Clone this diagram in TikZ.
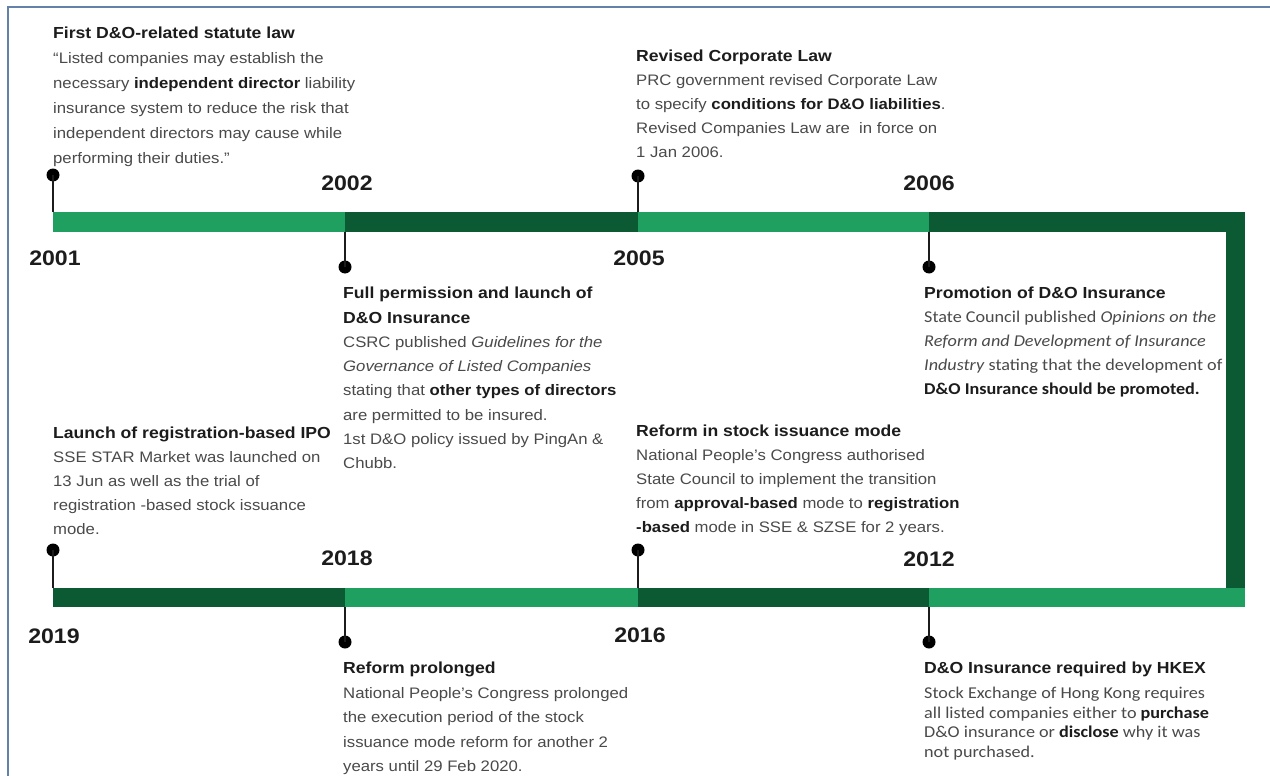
\documentclass[tikz,border=0pt]{standalone}
\usepackage{fontspec}
\setmainfont{Liberation Sans}[FakeStretch=1.1]
\newfontfamily\calfont{Carlito}[FakeStretch=1.1]
\definecolor{lgreen}{HTML}{1FA060}
\definecolor{dgreen}{HTML}{0B5A34}
\definecolor{framec}{HTML}{6382A8}
\definecolor{bodygray}{HTML}{4A4A4A}
\definecolor{ink}{HTML}{1C1C1C}
\newcommand{\ttl}[1]{{\rmfamily\fontsize{16}{24}\selectfont\bfseries\color{ink}#1}}
\newcommand{\bb}[1]{{\bfseries\color{ink}#1}}
\tikzset{
  pindot/.style={circle, fill=black, inner sep=0pt, minimum size=13pt},
  stem/.style={line width=1.8pt, draw=ink},
  year/.style={font=\fontsize{21}{24}\selectfont\bfseries, text=ink, inner sep=0pt, anchor=center},
  block/.style={anchor=north west, inner sep=0pt, align=left, text=bodygray, font=\fontsize{15.2}{24}\selectfont},
  calblock/.style={block, font=\calfont\fontsize{16.5}{24}\selectfont},
}
\begin{document}
\begin{tikzpicture}[x=1pt,y=-1pt]
\useasboundingbox (0,0) rectangle (1270,776);
\fill[white] (0,0) rectangle (1270,776);
% frame
\draw[framec, line width=2pt] (8,776) -- (8,7) -- (1270,7);
% top bar
\fill[lgreen] (53,212) rectangle (345,232);
\fill[dgreen] (345,212) rectangle (638,232);
\fill[lgreen] (638,212) rectangle (929,232);
\fill[dgreen] (929,212) rectangle (1245,232);
% right vertical bar
\fill[dgreen] (1226,212) rectangle (1245,588);
% bottom bar
\fill[dgreen] (53,588) rectangle (345,607);
\fill[lgreen] (345,588) rectangle (638,607);
\fill[dgreen] (638,588) rectangle (929,607);
\fill[lgreen] (929,588) rectangle (1245,607);

% bar anchor coordinates
\coordinate (b2001) at (53,212);
\coordinate (b2002) at (345,232);
\coordinate (b2005) at (638,212);
\coordinate (b2006) at (929,232);
\coordinate (b2019) at (53,588);
\coordinate (b2018) at (345,607);
\coordinate (b2016) at (638,588);
\coordinate (b2012) at (929,607);

% pins
\node[pindot] (p2001) at (53,175) {};
\node[pindot] (p2002) at (345,267) {};
\node[pindot] (p2005) at (638,176) {};
\node[pindot] (p2006) at (929,267) {};
\node[pindot] (p2019) at (53,550) {};
\node[pindot] (p2018) at (345,642) {};
\node[pindot] (p2016) at (638,550) {};
\node[pindot] (p2012) at (929,642) {};
\foreach \y in {2001,2002,2005,2006,2019,2018,2016,2012}
  \draw[stem] (p\y.center) -- (b\y);

% years
\node[year] (y2001) at (55,258) {2001};
\node[year] (y2002) at (347,183) {2002};
\node[year] (y2005) at (639,258) {2005};
\node[year] (y2006) at (929,183) {2006};
\node[year] (y2019) at (54,636) {2019};
\node[year] (y2018) at (347,558) {2018};
\node[year] (y2016) at (640,635) {2016};
\node[year] (y2012) at (929,559) {2012};

% text blocks
\node[block, font=\fontsize{15.2}{25}\selectfont] (t2001) at (53,27) {\ttl{First D\&O-related statute law}\\
“Listed companies may establish the\\
necessary \bb{independent director} liability\\
insurance system to reduce the risk that\\
independent directors may cause while\\
performing their duties.”};

\node[block] (t2005) at (636,50) {\ttl{Revised Corporate Law}\\
PRC government revised Corporate Law\\
to specify \bb{conditions for D\&O liabilities}.\\
Revised Companies Law are\ \ in force on\\
1 Jan 2006.};

\node[block, font=\fontsize{15.2}{24.3}\selectfont] (t2002) at (343,287) {\ttl{Full permission and launch of}\\
\ttl{D\&O Insurance}\\
CSRC published \textit{Guidelines for the}\\
\textit{Governance of Listed Companies}\\
stating that \bb{other types of directors}\\
are permitted to be insured.\\
1st D\&O policy issued by PingAn \&\\
Chubb.};

\node[calblock] (t2006) at (924,287) {\ttl{Promotion of D\&O Insurance}\\
State Council published \textit{Opinions on the}\\
\textit{Reform and Development of Insurance}\\
\textit{Industry} stating that the development of\\
\bb{D\&O Insurance should be promoted.}};

\node[block] (t2019) at (53,427) {\ttl{Launch of registration-based IPO}\\
SSE STAR Market was launched on\\
13 Jun as well as the trial of\\
registration -based stock issuance\\
mode.};

\node[block] (t2016) at (636,425) {\ttl{Reform in stock issuance mode}\\
National People’s Congress authorised\\
State Council to implement the transition\\
from \bb{approval-based} mode to \bb{registration}\\
\bb{-based} mode in SSE \& SZSE for 2 years.};

\node[block, font=\fontsize{15.2}{24.4}\selectfont] (t2018) at (343,662) {\ttl{Reform prolonged}\\
National People’s Congress prolonged\\
the execution period of the stock\\
issuance mode reform for another 2\\
years until 29 Feb 2020.};

\node[calblock, font=\calfont\fontsize{16.5}{19.5}\selectfont] (t2012) at (924,662) {\ttl{D\&O Insurance required by HKEX}\\[5.5pt]
Stock Exchange of Hong Kong requires\\
all listed companies either to \bb{purchase}\\
D\&O insurance or \bb{disclose} why it was\\
not purchased.};
\end{tikzpicture}
\end{document}
